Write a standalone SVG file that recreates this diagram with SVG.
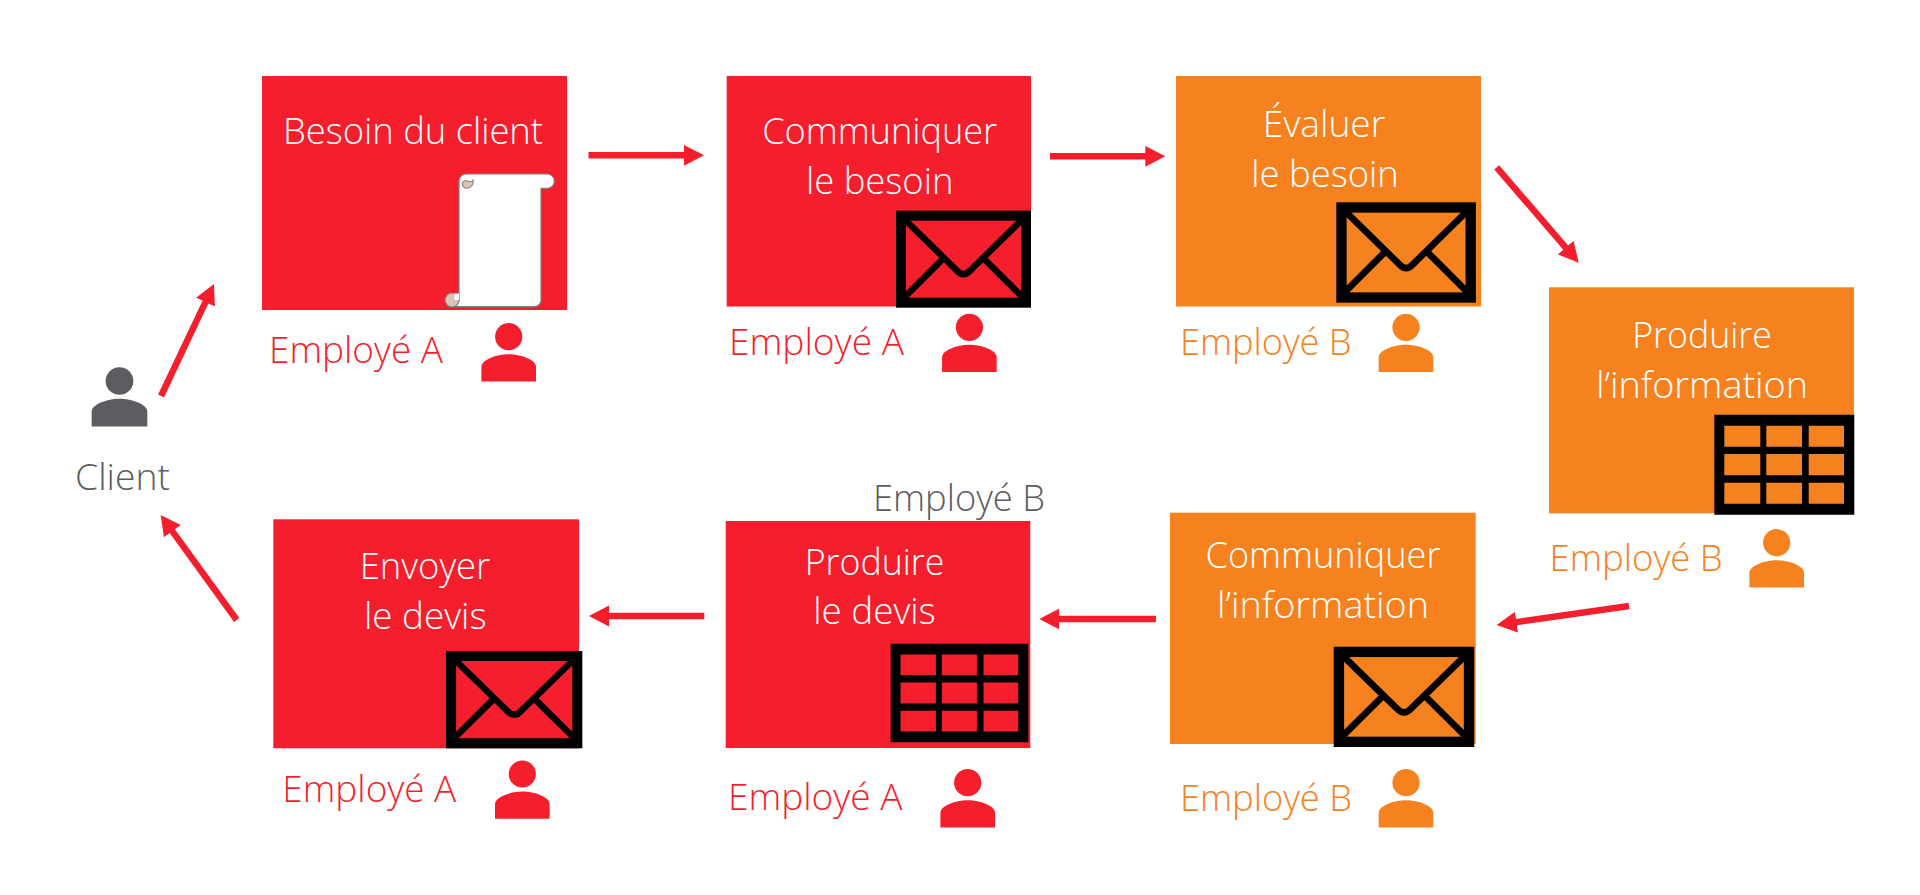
<svg xmlns="http://www.w3.org/2000/svg" xmlns:xlink="http://www.w3.org/1999/xlink" width="1920" height="895" viewBox="0 0 1920 895">
<style>
text{font-family:"Open Sans","Noto Sans","Liberation Sans",sans-serif;font-size:37px;font-weight:350}
.c{text-anchor:middle}
.w{fill:#fff}
.red{fill:#f51e2d}
.org{fill:#f6821f}
.gry{fill:#5c5d60}
.conn{stroke:#f51e2d;stroke-width:6.5;fill:none;marker-end:url(#ah)}
.env{fill:none;stroke:#000}
</style>
<defs>
<marker id="ah" markerUnits="userSpaceOnUse" markerWidth="22" markerHeight="22" refX="2" refY="11" orient="auto"><path d="M0,0.6 L20,11 L0,21.4 Z" fill="#f51e2d"/></marker>
<g id="person"><circle cx="0" cy="0" r="13.6"/><path d="M-27.3,44.7 V30 C-27.3,23 -12,17.5 0,17.5 C12,17.5 27.3,23 27.3,30 V44.7 Z"/></g>
<g id="envelope" class="env"><rect x="5" y="5" width="125" height="87" stroke-width="10"/><path d="M9,9 L61,60 Q67.5,67 74,60 L126,9 M8,87 L46,49 M127,87 L89,49" stroke-width="6.5"/></g>
<path id="table" fill="#000" fill-rule="evenodd" d="M0,0H140V100H0Z M10,11V32H46V11Z M52,11V32H87.7V11Z M94.4,11V32H129.7V11Z M10,39.3V60.6H46V39.3Z M52,39.3V60.6H87.7V39.3Z M94.4,39.3V60.6H129.7V39.3Z M10,68V89H46V68Z M52,68V89H87.7V68Z M94.4,68V89H129.7V68Z"/>
</defs>
<rect width="1920" height="895" fill="#fff"/>
<g id="connectors">
<line class="conn" x1="161" y1="396" x2="206.3" y2="300.3"/>
<line class="conn" x1="588.5" y1="155.3" x2="686" y2="155.3"/>
<line class="conn" x1="1050" y1="156.3" x2="1147.3" y2="156.3"/>
<line class="conn" x1="1496.7" y1="167.3" x2="1567" y2="249.1"/>
<line class="conn" x1="1629" y1="606" x2="1514.5" y2="622.4"/>
<line class="conn" x1="1156" y1="619" x2="1057.3" y2="619"/>
<line class="conn" x1="704.3" y1="616" x2="607" y2="616"/>
<line class="conn" x1="236.7" y1="620" x2="171.2" y2="529.6"/>
</g>
<g id="client">
<use xlink:href="#person" href="#person" transform="translate(119.5 381) scale(1.02)" class="gry"/>
<text class="gry" x="75" y="489.8" textLength="95" lengthAdjust="spacingAndGlyphs">Client</text>
</g>
<g id="besoin-client">
<rect class="red" x="262" y="76" width="305" height="234"/>
<text class="w c" x="413" y="143.5" textLength="260" lengthAdjust="spacingAndGlyphs">Besoin du client</text>
<path fill="#fff" stroke="#808080" stroke-width="1.2" d="M459,300 V181 A7,7 0 0 1 466,174 H547.2 A7.15,7.15 0 0 1 547.2,188.3 H541 V300 A6.7,6.7 0 0 1 534.3,306.7 H452 Z"/>
<circle cx="452" cy="300" r="7" fill="#dcc3b8" stroke="#808080" stroke-width="1.2"/>
<path fill="#fff" d="M454.5,300 V293.5 H459 V300 Z"/>
<path fill="#dcc3b8" stroke="#808080" stroke-width="1.1" d="M473,180 A6.5,6.5 0 0 1 467,188.2 A4.6,4.6 0 0 1 462.3,183.5 A4.2,4.2 0 0 1 467.5,181 Q471,183 473,180 Z"/>
<text class="red" x="269" y="363" textLength="174" lengthAdjust="spacingAndGlyphs">Employé A</text>
<use xlink:href="#person" href="#person" x="508.7" y="336.7" class="red"/>
</g>
<g id="communiquer-besoin">
<rect class="red" x="726.7" y="76" width="304.3" height="230.5"/>
<text class="w c" x="879.7" y="143.5" textLength="235" lengthAdjust="spacingAndGlyphs">Communiquer</text>
<text class="w c" x="879.7" y="194" textLength="147.5" lengthAdjust="spacingAndGlyphs">le besoin</text>
<use xlink:href="#envelope" href="#envelope" transform="translate(896 210.7)"/>
<text class="red" x="729" y="354.5" textLength="175" lengthAdjust="spacingAndGlyphs">Employé A</text>
<use xlink:href="#person" href="#person" x="969.4" y="327.3" class="red"/>
</g>
<g id="evaluer-besoin">
<rect class="org" x="1176" y="76" width="305" height="230.5"/>
<text class="w c" x="1324" y="136.8" textLength="122.5" lengthAdjust="spacingAndGlyphs">Évaluer</text>
<text class="w c" x="1325" y="186.8" textLength="147.5" lengthAdjust="spacingAndGlyphs">le besoin</text>
<use xlink:href="#envelope" href="#envelope" transform="translate(1336.3 202.3) scale(1.034 1.035)"/>
<text class="org" x="1180" y="354.5" textLength="171.5" lengthAdjust="spacingAndGlyphs">Employé B</text>
<use xlink:href="#person" href="#person" x="1406" y="327.3" class="org"/>
</g>
<g id="produire-information">
<rect class="org" x="1549" y="287.3" width="305" height="226"/>
<text class="w c" x="1702" y="347.5" textLength="139.5" lengthAdjust="spacingAndGlyphs">Produire</text>
<text class="w c" x="1702" y="397.5" textLength="212" lengthAdjust="spacingAndGlyphs">l’information</text>
<use xlink:href="#table" href="#table" transform="translate(1714.3 414.7)"/>
<text class="org" x="1549.6" y="570.5" textLength="173" lengthAdjust="spacingAndGlyphs">Employé B</text>
<use xlink:href="#person" href="#person" x="1776.7" y="542.7" class="org"/>
</g>
<g id="communiquer-information">
<rect class="org" x="1170" y="512.7" width="305.7" height="231.3"/>
<text class="w c" x="1323" y="567.5" textLength="235" lengthAdjust="spacingAndGlyphs">Communiquer</text>
<text class="w c" x="1323" y="617.5" textLength="212" lengthAdjust="spacingAndGlyphs">l’information</text>
<use xlink:href="#envelope" href="#envelope" transform="translate(1333.7 646.7) scale(1.041 1.034)"/>
<text class="org" x="1180" y="810.5" textLength="172" lengthAdjust="spacingAndGlyphs">Employé B</text>
<use xlink:href="#person" href="#person" x="1406" y="782.7" class="org"/>
</g>
<g id="produire-devis">
<rect class="red" x="725.7" y="521" width="304.6" height="227"/>
<text class="gry" x="873" y="510.5" textLength="172" lengthAdjust="spacingAndGlyphs">Employé B</text>
<text class="w c" x="874.5" y="574.5" textLength="139.5" lengthAdjust="spacingAndGlyphs">Produire</text>
<text class="w c" x="874.5" y="624" textLength="122.5" lengthAdjust="spacingAndGlyphs">le devis</text>
<use xlink:href="#table" href="#table" transform="translate(890.7 643.7) scale(0.983 0.986)"/>
<text class="red" x="728" y="809.5" textLength="174.5" lengthAdjust="spacingAndGlyphs">Employé A</text>
<use xlink:href="#person" href="#person" x="967.7" y="782.7" class="red"/>
</g>
<g id="envoyer-devis">
<rect class="red" x="273.3" y="519.3" width="305.7" height="229"/>
<text class="w c" x="425" y="579" textLength="130.5" lengthAdjust="spacingAndGlyphs">Envoyer</text>
<text class="w c" x="425.3" y="629" textLength="122.5" lengthAdjust="spacingAndGlyphs">le devis</text>
<use xlink:href="#envelope" href="#envelope" transform="translate(446 651) scale(1.01 1.003)"/>
<text class="red" x="282.3" y="802" textLength="174" lengthAdjust="spacingAndGlyphs">Employé A</text>
<use xlink:href="#person" href="#person" x="522.3" y="774" class="red"/>
</g>
</svg>
